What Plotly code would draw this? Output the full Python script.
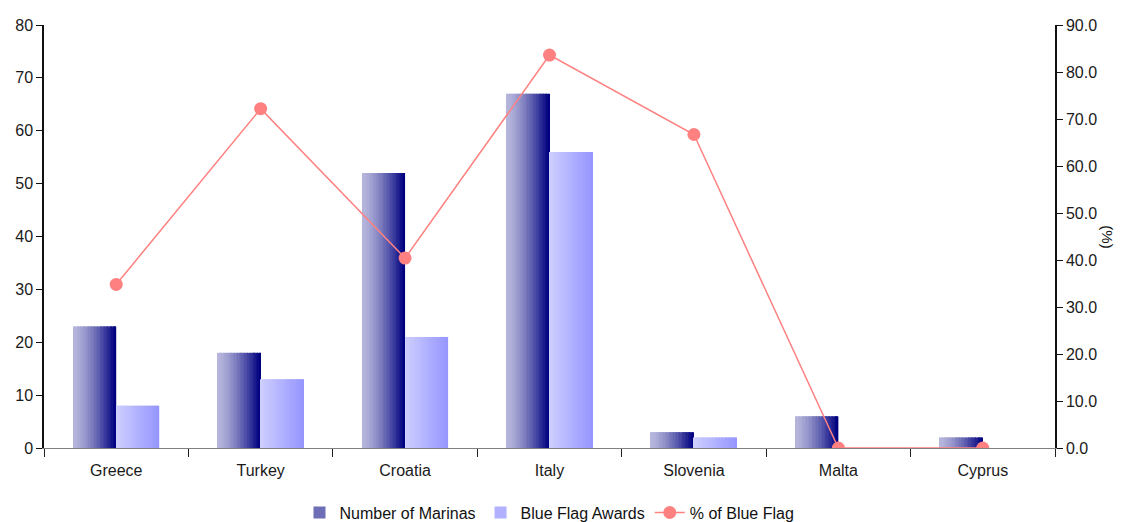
import plotly.graph_objects as go

# Marinas and Blue Flag awards by country
countries = ["Greece", "Turkey", "Croatia", "Italy", "Slovenia", "Malta", "Cyprus"]
marinas = [23, 18, 52, 67, 3, 6, 2]
blue_flags = [8, 13, 21, 56, 2, 0, 0]
pct_blue_flag = [34.8, 72.2, 40.4, 83.6, 66.7, 0.0, 0.0]

left_ticks = list(range(0, 81, 10))
right_ticks = list(range(0, 91, 10))

FONT = "Liberation Sans, Arial, sans-serif"
BAR_W = 0.298   # width of one bar in category units
N_SLICES = 30   # vertical strips used to build the horizontal gradient


def lerp_rgb(c0, c1, t):
    return "rgb({},{},{})".format(*[round(a + (b - a) * t) for a, b in zip(c0, c1)])


def gradient_bars(values, name, start_offset, c_left, c_right, gamma=1.0):
    """Build a bar series as narrow strips shading from c_left to c_right."""
    step = BAR_W / N_SLICES
    traces = []
    for i in range(N_SLICES):
        t = (i / (N_SLICES - 1)) ** gamma
        w = step * (1.3 if i < N_SLICES - 1 else 1.0)
        traces.append(go.Bar(
            x=countries, y=values,
            offset=start_offset + i * step, width=w,
            marker=dict(color=lerp_rgb(c_left, c_right, t), line=dict(width=0)),
            name=name, legendgroup=name,
            showlegend=(i == N_SLICES // 2),
            hoverinfo="skip" if i != N_SLICES // 2 else None,
            yaxis="y",
        ))
    return traces


fig = go.Figure()
for tr in gradient_bars(marinas, "Number of Marinas", -BAR_W, (182, 182, 220), (0, 0, 128), 1.4):
    fig.add_trace(tr)
for tr in gradient_bars(blue_flags, "Blue Flag Awards", 0.0, (206, 206, 255), (150, 150, 255)):
    fig.add_trace(tr)

fig.add_trace(go.Scatter(
    x=countries, y=pct_blue_flag, name="% of Blue Flag",
    mode="lines+markers", yaxis="y2",
    line=dict(color="#FF8080", width=1.5),
    marker=dict(color="#FF8080", size=13),
))

fig.update_layout(
    width=1123, height=522,
    margin=dict(l=44, r=68, t=25, b=74, autoexpand=False),
    paper_bgcolor="white", plot_bgcolor="white",
    barmode="overlay",
    font=dict(family=FONT, size=16, color="#1a1a1a"),
    showlegend=True,
    legend=dict(orientation="h", x=0.5, xanchor="center",
                yref="container", y=0.018, yanchor="middle",
                font=dict(family=FONT, size=16, color="#111111"),
                itemwidth=30, tracegroupgap=0, traceorder="normal"),
    xaxis=dict(type="category", showline=True, linecolor="#808080", linewidth=1,
               ticks="outside", tickson="boundaries", ticklen=8, tickcolor="#222222",
               ticklabelstandoff=8,
               showgrid=False, tickfont=dict(size=16), range=[-0.5, 6.5]),
    yaxis=dict(range=[0, 80], tickvals=left_ticks, showline=True, linecolor="#111111",
               linewidth=1.5, ticks="outside", ticklen=6, tickcolor="#111111",
               showgrid=False, zeroline=False, tickfont=dict(size=16)),
    yaxis2=dict(range=[0, 90], tickvals=right_ticks, tickformat=".1f", overlaying="y",
                side="right", showline=True, linecolor="#111111", linewidth=1.5,
                ticks="outside", ticklen=6, tickcolor="#111111",
                showgrid=False, zeroline=False, tickfont=dict(size=16)),
    annotations=[dict(text="(%)", xref="paper", yref="paper", x=1.062, y=0.5,
                      showarrow=False, textangle=90, font=dict(size=15, color="#111111"))],
)

fig.write_html("out.html")
